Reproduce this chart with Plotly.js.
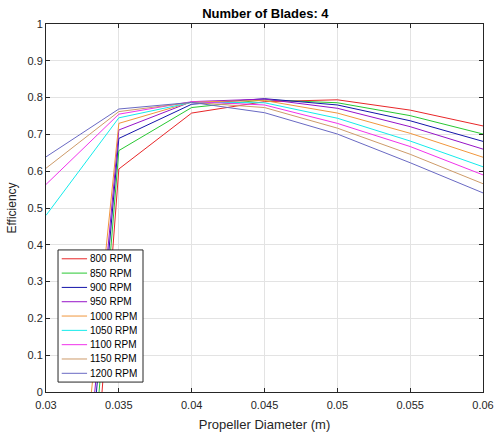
<!DOCTYPE html>
<html>
<head>
<meta charset="utf-8">
<script src="https://cdn.plot.ly/plotly-3.0.1.min.js"></script>
<style>html,body{margin:0;padding:0;background:#fff;}#chart{width:496px;height:435px;}</style>
</head>
<body>
<div id="chart"></div>
<script>
var diameters = [0.03, 0.035, 0.04, 0.045, 0.05, 0.055, 0.06];
var seriesNames = ['800 RPM','850 RPM','900 RPM','950 RPM','1000 RPM','1050 RPM','1100 RPM','1150 RPM','1200 RPM'];
var eff800  = [-2.02, 0.606, 0.758, 0.789, 0.794, 0.766, 0.723];
var eff850  = [-1.76, 0.656, 0.773, 0.794, 0.786, 0.751, 0.701];
var eff900  = [-1.55, 0.689, 0.782, 0.797, 0.780, 0.737, 0.681];
var eff950  = [-1.44, 0.712, 0.789, 0.796, 0.771, 0.721, 0.660];
var eff1000 = [-1.21, 0.730, 0.788, 0.792, 0.758, 0.703, 0.638];
var eff1050 = [0.480, 0.745, 0.787, 0.786, 0.744, 0.682, 0.612];
var eff1100 = [0.564, 0.755, 0.789, 0.780, 0.730, 0.667, 0.590];
var eff1150 = [0.608, 0.762, 0.787, 0.773, 0.717, 0.646, 0.566];
var eff1200 = [0.639, 0.769, 0.787, 0.759, 0.701, 0.623, 0.541];
var allEff = [eff800, eff850, eff900, eff950, eff1000, eff1050, eff1100, eff1150, eff1200];
var colors = ['rgb(232,38,40)','rgb(40,200,50)','rgb(20,20,170)','rgb(150,20,200)','rgb(240,150,60)','rgb(20,235,235)','rgb(240,50,235)','rgb(205,155,105)','rgb(105,105,195)'];

var traces = allEff.map(function(ys, i){
  return {x: diameters, y: ys, type: 'scatter', mode: 'lines', name: seriesNames[i],
          line: {color: colors[i], width: 1}, showlegend: false};
});

// custom compact legend (paper coords relative to plot area)
var legX0 = 0.0275, legX1 = 0.222, legY0 = 0.027, legY1 = 0.386;
var legTop = 0.362, legStep = 0.0389;
var legShapes = [{type:'rect', xref:'paper', yref:'paper', x0:legX0, x1:legX1, y0:legY0, y1:legY1,
  line:{color:'#262626', width:1}, fillcolor:'#ffffff', layer:'above'}];
var legAnnotations = [];
seriesNames.forEach(function(n, i){
  var yy = legTop - i*legStep;
  legShapes.push({type:'line', xref:'paper', yref:'paper', x0:0.036, x1:0.094, y0:yy, y1:yy,
    line:{color:colors[i], width:1}, layer:'above'});
  legAnnotations.push({xref:'paper', yref:'paper', x:0.096, y:yy, xanchor:'left', yanchor:'middle',
    text:n, showarrow:false, font:{family:'Liberation Sans, Arial, sans-serif', size:10, color:'#000'}});
});

var axisCommon = {
  showline: true, linecolor: '#262626', linewidth: 1, mirror: 'ticks',
  ticks: 'inside', ticklen: 4, tickcolor: '#262626',
  showgrid: true, gridcolor: '#e3e3e3', gridwidth: 1, zeroline: false,
  tickfont: {family: 'Liberation Sans, Arial, sans-serif', size: 11, color: '#262626'}
};

var layout = {
  width: 496, height: 435,
  margin: {l: 46, r: 13, t: 24, b: 43},
  paper_bgcolor: '#ffffff', plot_bgcolor: '#ffffff',
  title: {text: '<b>Number of Blades: 4</b>', x: 0.535, xanchor: 'center', y: 0.968, yanchor: 'middle',
          font: {family: 'Liberation Sans, Arial, sans-serif', size: 13, color: '#000'}},
  xaxis: Object.assign({}, axisCommon, {range: [0.03, 0.06], dtick: 0.005, tick0: 0.03, ticklabelstandoff: 3,
          title: {text: 'Propeller Diameter (m)', standoff: 9,
                  font: {family: 'Liberation Sans, Arial, sans-serif', size: 13, color: '#262626'}}}),
  yaxis: Object.assign({}, axisCommon, {range: [0, 1], dtick: 0.1, tick0: 0,
          title: {text: 'Efficiency', standoff: 8,
                  font: {family: 'Liberation Sans, Arial, sans-serif', size: 12, color: '#262626'}}}),
  showlegend: false,
  shapes: legShapes,
  annotations: legAnnotations
};

Plotly.newPlot('chart', traces, layout, {displayModeBar: false, staticPlot: true});
</script>
</body>
</html>
